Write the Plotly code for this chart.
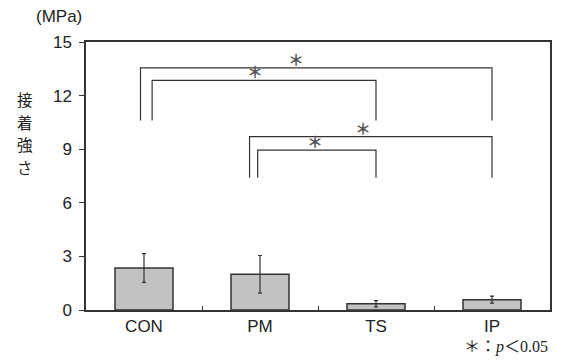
import plotly.graph_objects as go

categories = ["CON", "PM", "TS", "IP"]
means = [2.35, 2.0, 0.35, 0.58]
errors = [0.8, 1.05, 0.17, 0.2]
y_ticks = [0, 3, 6, 9, 12, 15]
y_title_chars = ["接", "着", "強", "さ"]

# significance brackets: (x_left, x_right, y_top, y_bottom, star_x)
brackets = [
    (-0.03, 3.0, 13.55, 10.6, 1.31),
    (0.07, 2.0, 12.85, 10.6, 0.96),
    (0.91, 3.0, 9.7, 7.4, 1.885),
    (0.98, 2.0, 8.95, 7.4, 1.47),
]

x = list(range(len(categories)))
line_col = "#333333"

fig = go.Figure()
fig.add_trace(go.Bar(
    x=x, y=means, width=0.5,
    marker=dict(color="#c2c2c2", line=dict(color=line_col, width=1.5)),
    error_y=dict(type="data", array=errors, color=line_col, thickness=1.2, width=2),
    showlegend=False,
))

for xl, xr, yt, yb, sx in brackets:
    fig.add_trace(go.Scatter(
        x=[xl, xl, xr, xr], y=[yb, yt, yt, yb], mode="lines",
        line=dict(color=line_col, width=1.2), showlegend=False, hoverinfo="skip",
    ))
    fig.add_annotation(x=sx, y=yt, text="<b>＊</b>", showarrow=False, yanchor="bottom",
                       yshift=-5, font=dict(size=16, color="#555555",
                                            family="Noto Sans CJK JP"))

fig.update_layout(
    width=567, height=360,
    margin=dict(l=86, r=17, t=42, b=50),
    plot_bgcolor="white", paper_bgcolor="white",
    font=dict(family="Liberation Sans, Arial", color="#222222"),
    bargap=0.5,
)
fig.update_xaxes(
    range=[-0.5, 3.5], tickvals=x, ticktext=categories, ticks="",
    tickfont=dict(size=17), showline=True, linecolor=line_col, linewidth=1.5,
    mirror=True, showgrid=False, zeroline=False,
    minor=dict(tickvals=[0.5, 1.5, 2.5], ticks="inside", ticklen=4,
               tickcolor=line_col, tickwidth=1),
)
fig.update_yaxes(
    range=[0, 15], tickvals=y_ticks, ticks="outside", ticklen=5,
    tickcolor=line_col, tickfont=dict(size=17), showline=True,
    linecolor=line_col, linewidth=1.5, mirror=True, showgrid=False,
    zeroline=False, ticklabelstandoff=4,
)
fig.add_annotation(xref="paper", yref="paper", x=-0.005, y=1.0, yshift=26,
                   text="(MPa)", showarrow=False, xanchor="right",
                   yanchor="middle", font=dict(size=17))
for i, ch in enumerate(y_title_chars):
    ypx = 99 + 22.5 * i
    fig.add_annotation(xref="paper", yref="paper", x=-0.132, y=(310 - ypx) / 268,
                       text=ch, showarrow=False, xanchor="center", yanchor="middle",
                       font=dict(size=15.5, family="Noto Sans CJK JP"))
fig.add_annotation(xref="paper", yref="paper", x=1.0, y=0, yshift=-48,
                   text="＊：<i>p</i>＜0.05", showarrow=False, xanchor="right",
                   yanchor="bottom",
                   font=dict(size=16, family="Liberation Serif, Noto Sans CJK JP"))

fig.write_html("out.html")
